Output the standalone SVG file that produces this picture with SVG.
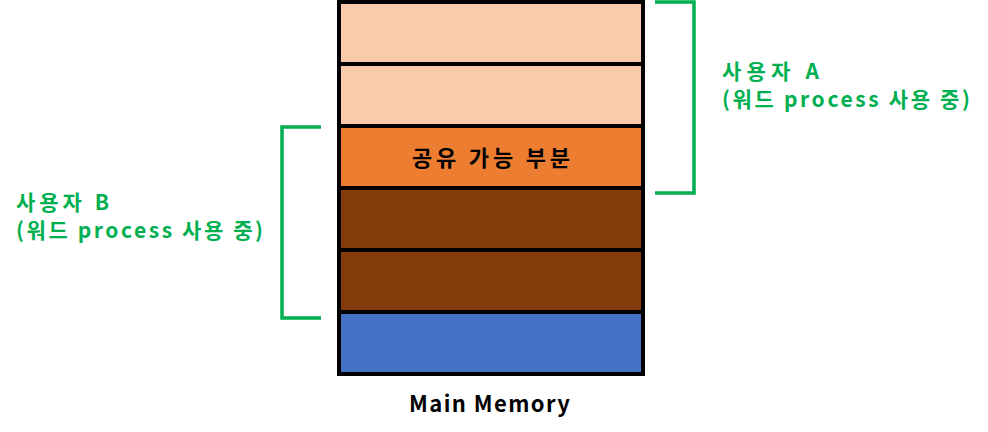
<svg xmlns="http://www.w3.org/2000/svg" width="988" height="432" viewBox="0 0 988 432">
<style>
.cell{stroke:#000;stroke-width:4}
.br{fill:none;stroke:#00B050;stroke-width:3.5}
.lbl{font-family:"Noto Sans CJK KR","Noto Sans",sans-serif;font-weight:bold;font-size:21px;fill:#00B050}
.blk{font-family:"Noto Sans CJK KR","Noto Sans",sans-serif;font-weight:bold;font-size:22px;fill:#000}
</style>
<rect width="988" height="432" fill="#fff"/>
<g id="memory">
<rect class="cell" x="339" y="2" width="304" height="62" fill="#F8CBAD"/>
<rect class="cell" x="339" y="64" width="304" height="62" fill="#F8CBAD"/>
<rect class="cell" x="339" y="126" width="304" height="62" fill="#ED7D31"/>
<rect class="cell" x="339" y="188" width="304" height="62" fill="#843C0C"/>
<rect class="cell" x="339" y="250" width="304" height="62" fill="#843C0C"/>
<rect class="cell" x="339" y="312" width="304" height="62" fill="#4472C4"/>
<text class="blk" x="412" y="166" textLength="158">공유 가능 부분</text>
</g>
<g id="connectors">
<path class="br" d="M655 2 H694 V193 H655"/>
<path class="br" d="M321 127 H282 V318 H321"/>
</g>
<g id="userA">
<text class="lbl" x="722" y="79" textLength="97">사용자 A</text>
<text class="lbl" x="722" y="107" textLength="248">(워드 process 사용 중)</text>
</g>
<g id="userB">
<text class="lbl" x="16" y="210" textLength="93">사용자 B</text>
<text class="lbl" x="16" y="238" textLength="247">(워드 process 사용 중)</text>
</g>
<g id="caption">
<text class="blk" x="409" y="412" textLength="161">Main Memory</text>
</g>
</svg>
